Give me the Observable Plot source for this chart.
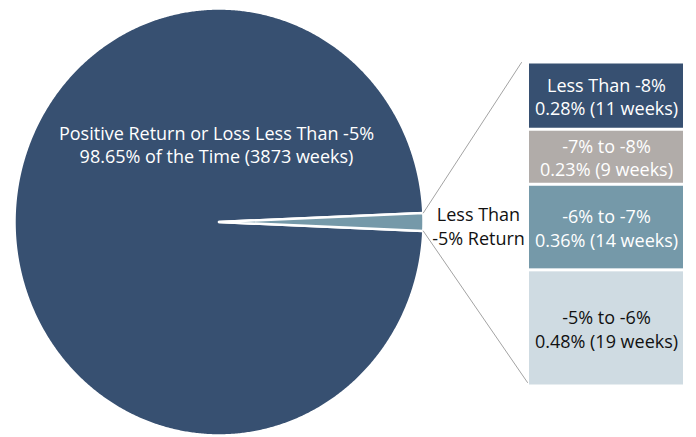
<!DOCTYPE html>
<html><head><meta charset="utf-8">
<script src="https://cdn.jsdelivr.net/npm/d3@7"></script>
<script src="https://cdn.jsdelivr.net/npm/@observablehq/plot@0.6"></script>
<style>
body{margin:0;background:#fff;font-family:"Open Sans",sans-serif;}
#wrap{position:relative;width:696px;height:437px;overflow:hidden;}
#wrap svg{position:absolute;}
</style></head><body><div id="wrap"></div>
<script>
// ---- data ----
const pieLabels = ["Positive Return or Loss Less Than -5%", "Less Than\n-5% Return"];
const piePct = [98.65, 1.35];
const pieWeeks = [3873, 53];
const pieFills = ["#375071", "#7599a9"];

const barCategories = ["Less Than -8%", "-7% to -8%", "-6% to -7%", "-5% to -6%"];
const barPct = [0.28, 0.23, 0.36, 0.48];
const barWeeks = [11, 9, 14, 19];
const barFills = ["#375071", "#b1aca9", "#7599a9", "#cfdbe2"];
const barTextFills = ["#ffffff", "#ffffff", "#ffffff", "#111111"];

// ---- layout ----
const W = 696, H = 437;
const cx = 218.5, cy = 221.5, rx = 204.5, ry = 213.5;   // pie ellipse in px
const bar = {left: 529, right: 683, top: 61.5, bottom: 385.5};
const font = "Open Sans";
const fs = 18;

const total = d3.sum(pieWeeks);
const half = Math.PI * pieWeeks[1] / total;
const slices = [
  {i: 0, a0: half, a1: 2 * Math.PI - half},
  {i: 1, a0: -half, a1: half}
];
const pts = [];
for (const s of slices) {
  pts.push({s: s.i, x: 0, y: 0, fill: pieFills[s.i]});
  const n = Math.max(12, Math.ceil((s.a1 - s.a0) * 150));
  for (let k = 0; k <= n; k++) {
    const a = s.a0 + (s.a1 - s.a0) * k / n;
    pts.push({s: s.i, x: Math.cos(a), y: Math.sin(a), fill: pieFills[s.i]});
  }
  pts.push({s: s.i, x: 0, y: 0, fill: pieFills[s.i]});
}
const ux = px => (px - cx) / rx;
const uy = py => (cy - py) / ry;
const connectors = [
  {k: "top", x: Math.cos(half), y: Math.sin(half)},
  {k: "top", x: ux(521), y: uy(62)},
  {k: "bot", x: Math.cos(half), y: -Math.sin(half)},
  {k: "bot", x: ux(527), y: uy(382)}
];

const mainText = pieLabels[0] + "\n" + piePct[0].toFixed(2) + "% of the Time (" + pieWeeks[0] + " weeks)";

const pie = Plot.plot({
  width: W, height: H,
  margin: 0,
  x: {domain: [ux(0), ux(W)], range: [0, W], axis: null},
  y: {domain: [uy(H), uy(0)], range: [H, 0], axis: null},
  color: {type: "identity"},
  style: {background: "transparent", fontFamily: font, overflow: "visible"},
  marks: [
    Plot.line(pts, {x: "x", y: "y", z: "s", fill: "fill", stroke: "white", strokeWidth: 2.5, strokeLinejoin: "round"}),
    Plot.line(connectors, {x: "x", y: "y", z: "k", stroke: "#a3a3a3", strokeWidth: 1}),
    Plot.text([mainText], {x: ux(216), y: uy(144), text: d => d, fill: "white", fontSize: fs, lineHeight: 1.27, fontFamily: font}),
    Plot.text([pieLabels[1]], {x: ux(478), y: uy(225), text: d => d, fill: "#111", fontSize: fs, lineHeight: 1.3, fontFamily: font})
  ]
});
pie.style.left = "0px"; pie.style.top = "0px";

const barData = barCategories.map((c, i) => ({
  cat: c, pct: barPct[i], weeks: barWeeks[i], fill: barFills[i], tf: barTextFills[i]
}));

const stackBar = Plot.plot({
  width: bar.right - bar.left, height: bar.bottom - bar.top,
  margin: 0,
  x: {axis: null, padding: 0},
  y: {axis: null, domain: [0, d3.sum(barWeeks)]},
  color: {type: "identity"},
  style: {background: "transparent", fontFamily: font, overflow: "visible"},
  marks: [
    Plot.barY(barData, Plot.stackY({x: () => "bar", y: "weeks", reverse: true, fill: "fill", insetTop: 1.5, insetBottom: 1.5})),
    Plot.text(barData, Plot.stackY({x: () => "bar", y: "weeks", reverse: true,
      text: d => d.cat + "\n" + d.pct.toFixed(2) + "% (" + d.weeks + " weeks)",
      fill: "tf", fontSize: fs, lineHeight: 1.3, fontFamily: font}))
  ]
});
stackBar.style.left = bar.left + "px"; stackBar.style.top = bar.top + "px";

const wrap = document.getElementById("wrap");
wrap.appendChild(pie);
wrap.appendChild(stackBar);
</script></body></html>
